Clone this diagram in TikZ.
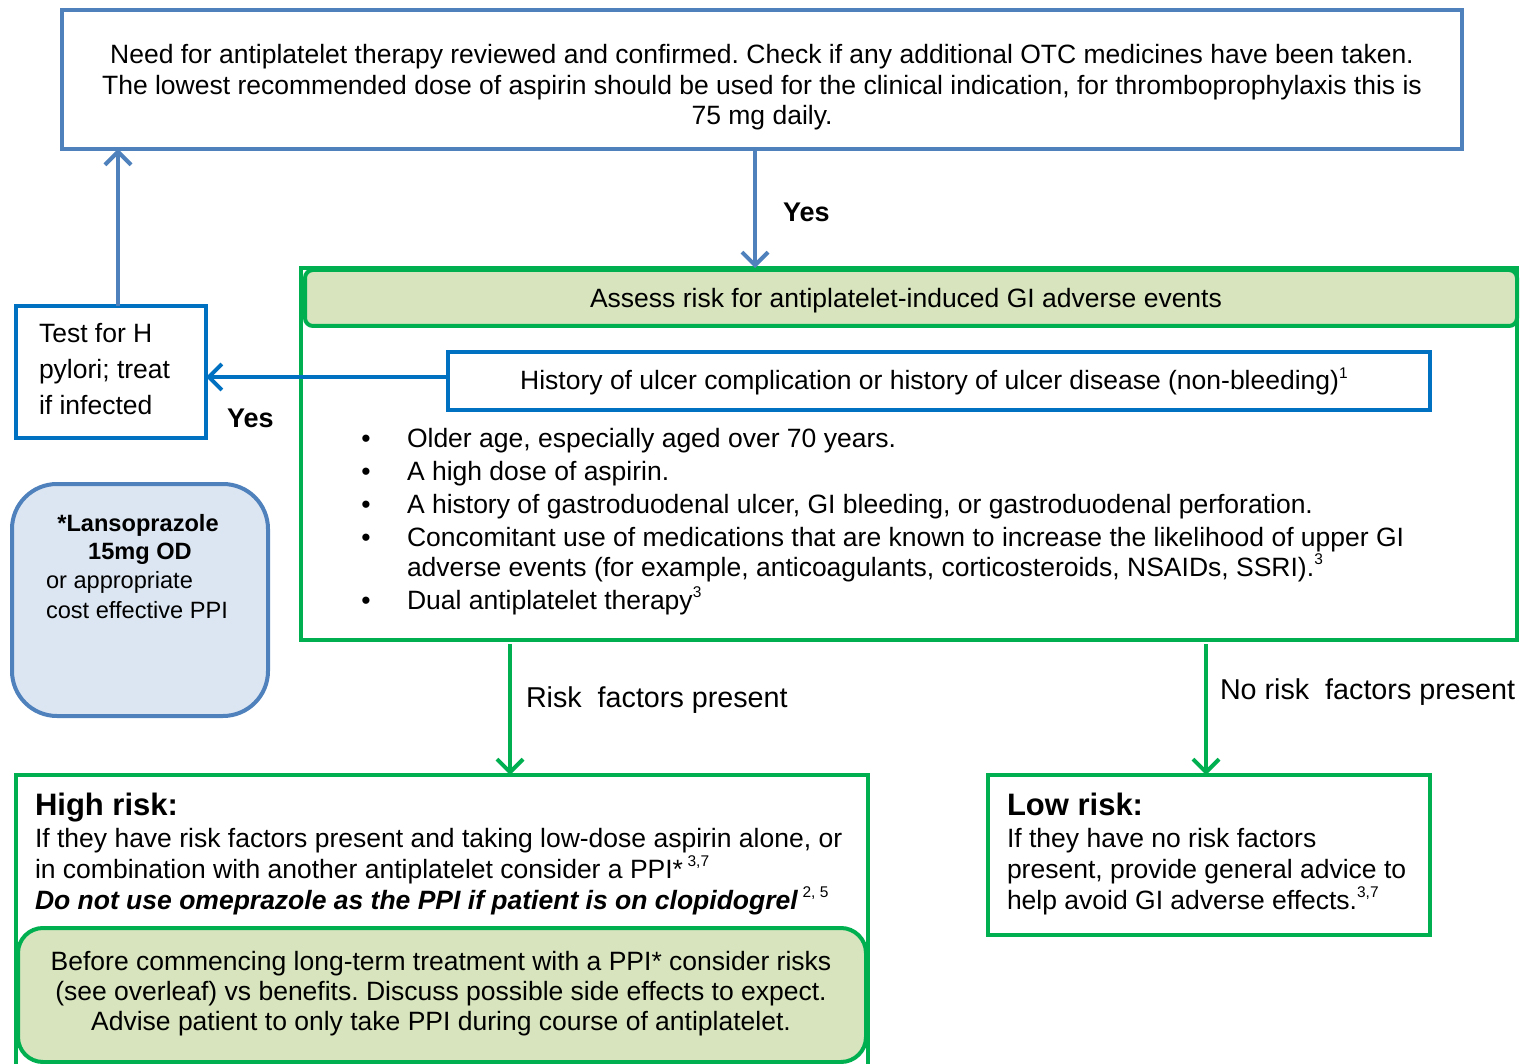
\documentclass[tikz,border=0pt]{standalone}
\usepackage{fontspec}
\setmainfont{Liberation Sans}
\usetikzlibrary{arrows.meta}
\definecolor{blueA}{RGB}{79,129,189}
\definecolor{blueB}{RGB}{0,112,192}
\definecolor{grn}{RGB}{0,176,80}
\definecolor{lgreen}{RGB}{215,228,189}
\definecolor{lblue}{RGB}{220,230,242}
\newcommand\mysup[1]{\raisebox{0.42em}{\fontsize{15.5}{15.5}\selectfont #1}}
\frenchspacing
\begin{document}
\begin{tikzpicture}[x=1pt,y=-1pt,
  every node/.style={inner sep=0pt,outer sep=0pt},
  txt/.style={font=\fontsize{26.5}{31}\selectfont},
  lab/.style={font=\fontsize{28.7}{33}\selectfont},
  small/.style={font=\fontsize{23.6}{28}\selectfont},
  smallb/.style={font=\fontsize{23.6}{28}\selectfont\bfseries},
  yeslab/.style={font=\fontsize{27}{32}\selectfont\bfseries},
  head/.style={font=\fontsize{31}{34}\selectfont\bfseries},
  box/.style={draw,line width=4pt,rectangle},
  barrowA/.style={draw=blueA,line width=4pt,-{Straight Barb[length=13pt,width=26pt,line width=4pt]}},
  barrowB/.style={draw=blueB,line width=4pt,-{Straight Barb[length=13pt,width=26pt,line width=4pt]}},
  garrow/.style={draw=grn,line width=4pt,-{Straight Barb[length=13pt,width=26pt,line width=4pt]}},
]
\useasboundingbox[fill=white] (0,0) rectangle (1521,1064);

% boxes
\node[box,draw=blueA,minimum width=1400pt,minimum height=139pt] (top) at (762,79.5) {};
\node[box,draw=grn,minimum width=1216pt,minimum height=372pt] (big) at (909,454) {};
\node[box,draw=grn,fill=lgreen,rounded corners=8pt,minimum width=1212pt,minimum height=56pt] (hdr) at (911,298) {};
\node[box,draw=blueB,fill=white,minimum width=982pt,minimum height=58pt] (hist) at (939,381) {};
\node[box,draw=blueB,minimum width=190pt,minimum height=132pt] (test) at (111,372) {};
\node[box,draw=blueA,fill=lblue,rounded corners=45pt,minimum width=256pt,minimum height=232pt] (lanso) at (140,600) {};
\node[box,draw=grn,minimum width=852pt,minimum height=293pt] (high) at (442,921.5) {};
\node[box,draw=grn,fill=lgreen,rounded corners=25pt,minimum width=848pt,minimum height=134pt] (inner) at (442,995) {};
\node[box,draw=grn,minimum width=442pt,minimum height=160pt] (low) at (1209,855) {};

% top text
\node[txt,anchor=base] (t1) at (762,64) {Need for antiplatelet therapy reviewed and confirmed. Check if any additional OTC medicines have been taken.};
\node[txt,anchor=base] (t2) at (762,95) {The lowest recommended dose of aspirin should be used for the clinical indication, for thromboprophylaxis this is};
\node[txt,anchor=base] (t3) at (762,125) {75 mg daily.};

% header and history
\node[txt,anchor=base] (hdrt) at (906,308) {Assess risk for antiplatelet-induced GI adverse events};
\node[txt,anchor=base] (histt) at (934,390) {History of ulcer complication or history of ulcer disease (non-bleeding)\mysup{1}};

% bullets
\foreach \yy/\tt [count=\i] in {447/{Older age, especially aged over 70 years.},
  480/{A high dose of aspirin.},
  513/{A history of gastroduodenal ulcer, GI bleeding, or gastroduodenal perforation.},
  546/{Concomitant use of medications that are known to increase the likelihood of upper GI},
  609/{Dual antiplatelet therapy\mysup{3}}}{
  \node[txt,anchor=base] (bul\i) at (366,\yy) {•};
  \node[txt,anchor=base west] (bt\i) at (407,\yy) {\tt};
}
\node[txt,anchor=base west] (bt4b) at (407,576) {adverse events (for example, anticoagulants, corticosteroids, NSAIDs, SSRI).\mysup{3}};

% test box text
\node[txt,anchor=base west] (te1) at (39,343) {Test for H};
\node[txt,anchor=base west] (te2) at (39,379) {pylori; treat};
\node[txt,anchor=base west] (te3) at (39,414) {if infected};

% lansoprazole
\node[smallb,anchor=base] (l1) at (138,531) {*Lansoprazole};
\node[smallb,anchor=base] (l2) at (140,559) {15mg OD};
\node[small,anchor=base west] (l3) at (46,588) {or appropriate};
\node[small,anchor=base west] (l4) at (46,618) {cost effective PPI};

% high risk
\node[head,anchor=base west] (h0) at (35,815) {High risk:};
\node[txt,anchor=base west] (h1) at (35,847) {If they have risk factors present and taking low-dose aspirin alone, or};
\node[txt,anchor=base west] (h2) at (35,878) {in combination with another antiplatelet consider a PPI*\,\mysup{3,7}};
\node[txt,anchor=base west] (h3) at (35,909) {\textbf{\textit{Do not use omeprazole as the PPI if patient is on clopidogrel}}\,\mysup{2, 5}};

\node[txt,anchor=base] (i1) at (441,970) {Before commencing long-term treatment with a PPI* consider risks};
\node[txt,anchor=base] (i2) at (441,1000) {(see overleaf) vs benefits. Discuss possible side effects to expect.};
\node[txt,anchor=base] (i3) at (441,1030) {Advise patient to only take PPI during course of antiplatelet.};

% low risk
\node[head,anchor=base west] (lo0) at (1007,815) {Low risk:};
\node[txt,anchor=base west] (lo1) at (1007,847) {If they have no risk factors};
\node[txt,anchor=base west] (lo2) at (1007,878) {present, provide general advice to};
\node[txt,anchor=base west] (lo3) at (1007,909) {help avoid GI adverse effects.\mysup{3,7}};

% connectors
\coordinate (c1) at (755,0);
\coordinate (c2) at (0,377);
\coordinate (c3) at (118,0);
\coordinate (c4) at (510,0);
\coordinate (c5) at (1206,0);
\coordinate (c6) at (0,644);
\draw[barrowA] (top.south -| c1) -- (big.north -| c1);
\draw[barrowB] (hist.west |- c2) -- (test.east |- c2);
\draw[barrowA] (test.north -| c3) -- (top.south -| c3);
\draw[garrow] (c4 |- c6) -- (high.north -| c4);
\draw[garrow] (c5 |- c6) -- (low.north -| c5);

% labels
\node[yeslab,anchor=west] (y1) at (783,212) {Yes};
\node[yeslab,anchor=west] (y2) at (227,418) {Yes};
\node[lab,anchor=west] (rf) at (526,700) {Risk~ factors present};
\node[lab,anchor=west] (nrf) at (1220,692) {No risk~ factors present};
\end{tikzpicture}
\end{document}
